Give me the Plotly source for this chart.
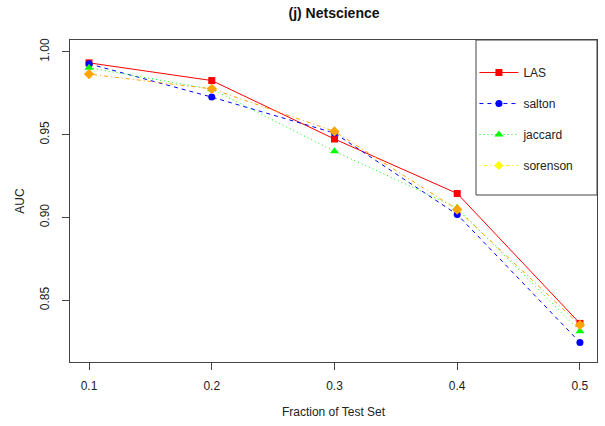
import plotly.graph_objects as go

fraction = [0.1, 0.2, 0.3, 0.4, 0.5]
las = [0.9934, 0.9827, 0.9474, 0.9145, 0.8360]
salton = [0.9928, 0.9727, 0.9510, 0.9018, 0.8245]
jaccard = [0.9904, 0.9775, 0.9400, 0.9058, 0.8313]
sorenson = [0.9866, 0.9777, 0.9520, 0.9048, 0.8351]

x_ticks = [0.1, 0.2, 0.3, 0.4, 0.5]
x_ticklabels = ["0.1", "0.2", "0.3", "0.4", "0.5"]
y_ticks = [0.85, 0.90, 0.95, 1.00]
y_ticklabels = ["0.85", "0.90", "0.95", "1.00"]

FONT = "Liberation Sans, Arial, sans-serif"

fig = go.Figure()
fig.add_trace(go.Scatter(x=fraction, y=las, name="LAS", mode="lines+markers",
                         line=dict(color="#FF0000", width=1, dash="solid"),
                         marker=dict(symbol="square", size=7, color="#FF0000"),
                         legendgroup="a"))
fig.add_trace(go.Scatter(x=fraction, y=salton, name="salton", mode="lines+markers",
                         line=dict(color="#0000FF", width=1, dash="4px,4px"),
                         marker=dict(symbol="circle", size=7, color="#0000FF"),
                         legendgroup="b"))
fig.add_trace(go.Scatter(x=fraction, y=jaccard, name="jaccard", mode="lines+markers",
                         line=dict(color="#00FF00", width=1, dash="1px,3px"),
                         marker=dict(symbol="triangle-up", size=8, color="#00FF00"),
                         legendgroup="c"))
fig.add_trace(go.Scatter(x=fraction, y=sorenson, name="sorenson", mode="lines+markers",
                         line=dict(color="#FFA500", width=1, dash="1px,3px,4px,3px"),
                         marker=dict(symbol="diamond", size=8, color="#FFA500"),
                         showlegend=False))
# legend entry for sorenson drawn in yellow as in the reference
fig.add_trace(go.Scatter(x=[None], y=[None], name="sorenson", mode="lines+markers",
                         line=dict(color="#FFFF00", width=1, dash="1px,3px,4px,3px"),
                         marker=dict(symbol="diamond", size=7, color="#FFFF00"),
                         legendgroup="d"))

# legend frame
fig.add_shape(type="rect", xref="x domain", yref="y domain",
              x0=0.7704, x1=1.0, y0=0.5186, y1=1.0,
              line=dict(color="#444444", width=1), fillcolor="rgba(0,0,0,0)")

fig.update_layout(
    width=605, height=426,
    margin=dict(l=70, r=8, t=40, b=64),
    paper_bgcolor="white", plot_bgcolor="white",
    font=dict(family=FONT, size=12, color="#222222"),
    title=dict(text="<b>(j) Netscience</b>", x=334 / 605, xanchor="center",
               y=1 - 13 / 426, yanchor="middle", font=dict(size=14, color="#111111")),
    legend=dict(x=0.7674, y=0.944, xanchor="left", yanchor="top",
                bgcolor="rgba(0,0,0,0)", borderwidth=0,
                font=dict(size=12, color="#222222"), tracegroupgap=12,
                itemwidth=39),
    xaxis=dict(range=[0.0845, 0.5139], tickvals=x_ticks, ticktext=x_ticklabels,
               showgrid=False, zeroline=False, showline=True, mirror=True,
               linecolor="#444444", linewidth=1, ticks="outside", ticklen=7,
               tickcolor="#444444", ticklabelstandoff=6,
               title=dict(text="Fraction of Test Set", standoff=15, font=dict(size=12))),
    yaxis=dict(range=[0.8127, 1.0072], tickvals=y_ticks, ticktext=y_ticklabels,
               tickangle=-90, showgrid=False, zeroline=False, showline=True, mirror=True,
               linecolor="#444444", linewidth=1, ticks="outside", ticklen=7,
               tickcolor="#444444", ticklabelstandoff=8,
               title=dict(text="AUC", standoff=11, font=dict(size=12))),
)

fig.write_html("out.html", config={"displayModeBar": False},
               post_script="document.body.style.margin='0';")
